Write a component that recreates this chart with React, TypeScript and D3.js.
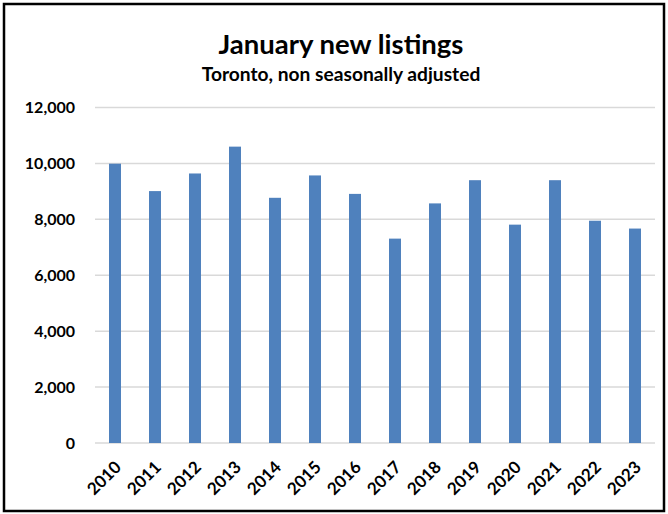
import React from "react";
import * as d3 from "d3";

const years = ["2010","2011","2012","2013","2014","2015","2016","2017","2018","2019","2020","2021","2022","2023"];
const listings = [9990, 9010, 9640, 10600, 8770, 9570, 8910, 7310, 8570, 9400, 7810, 9400, 7950, 7670];
const yTicks = [0, 2000, 4000, 6000, 8000, 10000, 12000];
const title = "January new listings";
const subtitle = "Toronto, non seasonally adjusted";

export default function App() {
  const W = 668, H = 514;
  const left = 95, right = 655, top = 107.5, bottom = 443;
  const x = d3.scaleBand().domain(years).range([left, right]).paddingInner(0.7).paddingOuter(0.35);
  const y = d3.scaleLinear().domain([0, 12000]).range([bottom, top]);
  const fmt = d3.format(",");
  const font = "Lato, 'Liberation Sans', sans-serif";
  return (
    <div style={{ position: "absolute", left: 0, top: 0 }}>
      <svg width={W} height={H} style={{ display: "block" }}>
        <rect x={0} y={0} width={W} height={H} fill="#fff" />
        <rect x={4} y={4} width={660} height={507} fill="none" stroke="#000" strokeWidth={2.5} />
        <text x={341} y={54} textAnchor="middle" fontFamily={font} fontSize={27.5} fontWeight={700} fill="#000">{title}</text>
        <text x={341} y={81} textAnchor="middle" fontFamily={font} fontSize={19.2} fontWeight={700} fill="#000">{subtitle}</text>
        {yTicks.map(t => (
          <g key={t}>
            <line x1={left} x2={right} y1={y(t)} y2={y(t)} stroke="#d9d9d9" strokeWidth={1.5} />
            <text x={75} y={y(t)} dy="0.35em" textAnchor="end" fontFamily={font} fontSize={16} fontWeight={700} fill="#000">{fmt(t)}</text>
          </g>
        ))}
        {years.map((yr, i) => (
          <rect key={yr} x={x(yr)} y={y(listings[i])} width={x.bandwidth()} height={bottom - y(listings[i])} fill="#4f81bd" />
        ))}
        {years.map(yr => {
          const cx = (x(yr) as number) + x.bandwidth() / 2;
          return (
            <text key={yr} transform={`translate(${cx},${bottom + 18}) rotate(-45)`} textAnchor="end" dy="0.6em" fontFamily={font} fontSize={17} fontWeight={700} fill="#000">{yr}</text>
          );
        })}
      </svg>
    </div>
  );
}
